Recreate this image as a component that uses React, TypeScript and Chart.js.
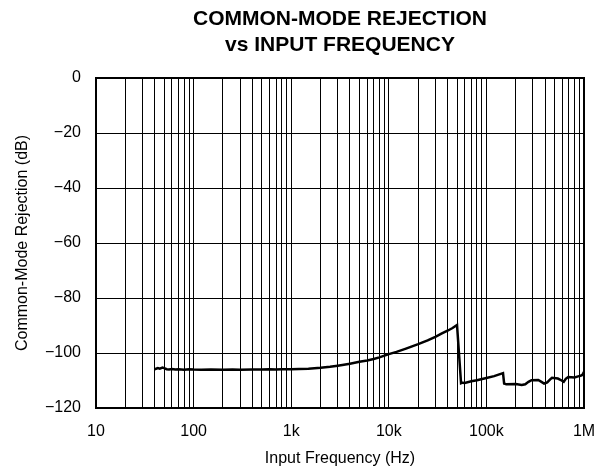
import React, { useEffect, useRef } from "react";
import { Chart, registerables } from "chart.js";

Chart.register(...registerables);

const titleLines = ["COMMON-MODE REJECTION", "vs INPUT FREQUENCY"];
const xAxisTitle = "Input Frequency (Hz)";
const yAxisTitle = "Common-Mode Rejection (dB)";

const xTickValues = [10, 100, 1000, 10000, 100000, 1000000];
const xTickLabels = ["10", "100", "1k", "10k", "100k", "1M"];
const yTickValues = [0, -20, -40, -60, -80, -100, -120];

const freqHz = [
  40, 43, 45, 48, 50, 53, 56, 60, 65, 70, 80, 90, 100, 120, 150, 200, 250, 300,
  400, 500, 600, 700, 800, 1000, 1200, 1500, 2000, 2500, 3000, 4000, 5000, 6000,
  7000, 8000, 10000, 12000, 15000, 20000, 25000, 30000, 35000, 40000, 45000,
  50000, 55000, 57000, 60000, 70000, 80000, 100000, 120000, 148000, 152000,
  160000, 200000, 230000, 250000, 270000, 290000, 340000, 370000, 390000,
  420000, 450000, 470000, 540000, 590000, 620000, 650000, 690000, 800000,
  870000, 920000, 960000, 1000000,
];

const cmrDb = [
  -105.9, -105.5, -105.7, -105.3, -105.5, -105.9, -106.0, -105.8, -106.0,
  -105.9, -106.1, -105.9, -106.0, -106.1, -106.0, -106.1, -106.0, -106.1,
  -106.0, -106.0, -105.9, -106.0, -105.9, -105.9, -105.8, -105.7, -105.4,
  -105.0, -104.6, -103.9, -103.2, -102.7, -102.2, -101.6, -100.4, -99.6, -98.4,
  -96.8, -95.4, -94.1, -92.9, -91.9, -90.9, -89.8, -111.0, -110.8, -110.9,
  -110.3, -109.9, -109.1, -108.4, -107.3, -111.1, -111.4, -111.3, -111.6,
  -111.4, -110.5, -109.9, -109.8, -110.6, -111.1, -110.7, -109.6, -109.0,
  -109.3, -110.0, -110.5, -109.4, -108.7, -108.9, -108.5, -108.3, -108.0,
  -106.9,
];

const FONT = "'Liberation Sans', Arial, Helvetica, sans-serif";

const framePlugin = {
  id: "frameAndTitle",
  afterDraw(chart: any) {
    const { ctx, chartArea } = chart;
    ctx.save();
    ctx.strokeStyle = "#000";
    ctx.lineWidth = 2;
    ctx.strokeRect(
      chartArea.left,
      chartArea.top,
      chartArea.right - chartArea.left,
      chartArea.bottom - chartArea.top
    );
    ctx.fillStyle = "#000";
    ctx.font = `bold 21px ${FONT}`;
    ctx.textAlign = "center";
    ctx.textBaseline = "middle";
    const cx = (chartArea.left + chartArea.right) / 2;
    ctx.fillText(titleLines[0], cx, 19);
    ctx.fillText(titleLines[1], cx, 45);
    ctx.restore();
  },
};

export default function App() {
  const canvasRef = useRef<HTMLCanvasElement | null>(null);

  useEffect(() => {
    const canvas = canvasRef.current;
    if (!canvas) return;
    const points = freqHz.map((f, i) => ({ x: f, y: cmrDb[i] }));
    const chart = new Chart(canvas, {
      type: "line",
      data: {
        datasets: [
          {
            data: points,
            borderColor: "#000",
            borderWidth: 2.5,
            pointRadius: 0,
            tension: 0,
            fill: false,
          },
        ],
      },
      options: {
        animation: false,
        responsive: false,
        layout: { padding: { top: 78, right: 13, left: 0, bottom: 0 } },
        plugins: {
          legend: { display: false },
          tooltip: { enabled: false },
          title: { display: false },
        },
        scales: {
          x: {
            type: "logarithmic",
            min: 10,
            max: 1000000,
            afterBuildTicks(scale: any) {
              const ticks: any[] = [];
              for (let d = 0; d < xTickValues.length; d++) {
                const base = xTickValues[d];
                ticks.push({ value: base, major: true });
                if (d < xTickValues.length - 1) {
                  for (let m = 2; m <= 9; m++) ticks.push({ value: base * m });
                }
              }
              scale.ticks = ticks;
            },
            afterFit(scale: any) {
              scale.height = 64;
              scale.paddingLeft = 0;
              scale.paddingRight = 0;
            },
            ticks: {
              autoSkip: false,
              maxRotation: 0,
              minRotation: 0,
              padding: 14,
              color: "#000",
              font: { family: FONT, size: 16 },
              callback(value: any) {
                const idx = xTickValues.indexOf(Number(value));
                return idx >= 0 ? xTickLabels[idx] : "";
              },
            },
            grid: { color: "#000", lineWidth: 1, drawTicks: false },
            border: { display: true, color: "#000", width: 2 },
            title: {
              display: true,
              text: xAxisTitle,
              color: "#000",
              font: { family: FONT, size: 16 },
              padding: { top: 0, bottom: 4 },
            },
          },
          y: {
            type: "linear",
            min: -120,
            max: 0,
            afterBuildTicks(scale: any) {
              scale.ticks = yTickValues.map((v) => ({ value: v }));
            },
            afterFit(scale: any) {
              scale.width = 96;
              scale.paddingTop = 0;
              scale.paddingBottom = 0;
            },
            ticks: {
              padding: 15,
              color: "#000",
              font: { family: FONT, size: 16 },
              callback(value: any) {
                const v = Number(value);
                return v < 0 ? "\u2212" + Math.abs(v) : String(v);
              },
            },
            grid: { color: "#000", lineWidth: 1, drawTicks: false },
            border: { display: true, color: "#000", width: 2 },
            title: {
              display: true,
              text: yAxisTitle,
              color: "#000",
              font: { family: FONT, size: 16 },
              padding: { top: 13, bottom: 0 },
            },
          },
        },
      },
      plugins: [framePlugin],
    });
    return () => chart.destroy();
  }, []);

  return (
    <div style={{ position: "absolute", left: 0, top: 0, width: 597, height: 472, background: "#fff" }}>
      <canvas ref={canvasRef} width={597} height={472} style={{ display: "block" }} />
    </div>
  );
}
